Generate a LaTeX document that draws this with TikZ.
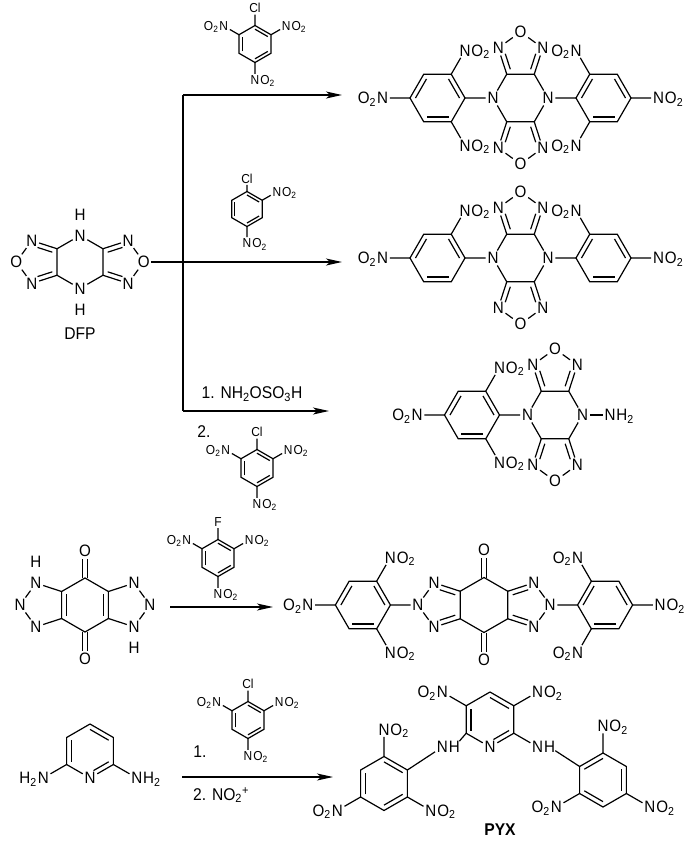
\documentclass[tikz,border=0pt]{standalone}
\usepackage{fontspec}
\setmainfont{Liberation Sans}
\newfontfamily\chemfont{Liberation Sans}[FakeStretch=0.92]
\usetikzlibrary{calc,positioning,arrows.meta}

\newcommand\atomfont{\chemfont\fontsize{16.5}{16.5}\selectfont}
\newcommand\smallfont{\chemfont\fontsize{13}{13}\selectfont}
\newcommand\notefont{\chemfont\fontsize{17}{18}\selectfont}

% six ring corners #11..#16 round #1c
\newcommand\ringat[4]{%
  \coordinate (#1c) at (#2);
  \foreach \k in {1,...,6}
    \coordinate (#1\k) at ($(#1c)+({#4+60*(\k-1)}:#3)$);
}
% five ring corners #11..#15 round #1c
\newcommand\pentat[4]{%
  \coordinate (#1c) at (#2);
  \foreach \k in {1,...,5}
    \coordinate (#1\k) at ($(#1c)+({#4+72*(\k-1)}:#3)$);
}
% inner line of a double bond
\newcommand\dbl[4][]{\draw[bond,#1] ($(#4)!0.8!(#2)$) -- ($(#4)!0.8!(#3)$);}
\newcommand\dblf[4][]{\draw[bond,#1] ($(#4)!0.74!(#2)$) -- ($(#4)!0.74!(#3)$);}
% nitro group
\newcommand\nitro[4][]{%
  \node[atom,#1] (#2) at (#3) {N};
  \node[tail,#1,base #4=-1pt of #2] (#2t) {O\textsubscript{2}};
}

\begin{document}
\begin{tikzpicture}[x=1pt,y=-1pt,
  bond/.style={line width=1.2pt},
  atom/.style={inner sep=1.6pt,font=\atomfont},
  tail/.style={inner sep=0pt,font=\atomfont},
  small/.style={font=\smallfont},
  note/.style={inner sep=0pt,font=\notefont},
  rxn/.style={line width=1.3pt,-{Stealth[length=16pt,width=7pt,inset=4pt]}}]
\useasboundingbox (0,0) rectangle (700,841);

% DFP
\ringat{d}{80,262}{26.5}{-90}
\node[atom] (dN1) at (d1) {N};
\node[atom] (dN4) at (d4) {N};
\node[atom,above=6pt of dN1] (dH1) {H};
\node[atom,below=6pt of dN4] (dH4) {H};
\draw[bond] (dN1) -- (d2) -- (d3) -- (dN4) -- (d5) -- (d6) -- (dN1);
\pentat{dl}{38.8,262}{22.5}{180}
\node[atom] (dlO) at (dl1) {O};
\node[atom] (dlN2) at (dl2) {N};
\node[atom] (dlN5) at (dl5) {N};
\draw[bond] (d6) -- (dlN2) -- (dlO) -- (dlN5) -- (d5);
\dblf[shorten >=4pt]{d6}{dlN2}{dlc}
\dblf[shorten >=4pt]{d5}{dlN5}{dlc}
\pentat{dr}{121.2,262}{22.5}{0}
\node[atom] (drO) at (dr1) {O};
\node[atom] (drN2) at (dr2) {N};
\node[atom] (drN5) at (dr5) {N};
\draw[bond] (d2) -- (drN5) -- (drO) -- (drN2) -- (d3);
\dblf[shorten >=4pt]{d2}{drN5}{drc}
\dblf[shorten >=4pt]{d3}{drN2}{drc}
\node[note] (dfp) at (80,334) {DFP};

% arrows from DFP
\coordinate (fk1) at (183,95);
\coordinate (fk3) at (183,411);
\coordinate (hd1) at (342,95);
\coordinate (hd2) at (342,262);
\coordinate (hd3) at (329,411);
\draw[line width=1.3pt] (fk1) -- (fk3);
\draw[rxn] (fk1) -- (hd1);
\draw[rxn] (drO) -- (hd2);
\draw[rxn] (fk3) -- (hd3);

% picryl chloride (1)
\ringat{ra}{255,44}{18.5}{-90}
\draw[bond] (ra1) -- (ra2) -- (ra3) -- (ra4) -- (ra5) -- (ra6) -- cycle;
\dbl{ra1}{ra2}{rac} \dbl{ra3}{ra4}{rac} \dbl{ra5}{ra6}{rac}
\node[atom,small] (raCl) at ($(rac)!1.95!(ra1)$) {Cl};
\nitro[small]{raN6}{$(rac)!1.95!(ra6)$}{left}
\nitro[small]{raN2}{$(rac)!1.95!(ra2)$}{right}
\nitro[small]{raN4}{$(rac)!1.95!(ra4)$}{right}
\draw[bond] (ra1) -- (raCl) (ra6) -- (raN6) (ra2) -- (raN2) (ra4) -- (raN4);

% 2,4-dinitrochlorobenzene
\ringat{rb}{247,209}{17.5}{-90}
\draw[bond] (rb1) -- (rb2) -- (rb3) -- (rb4) -- (rb5) -- (rb6) -- cycle;
\dbl{rb1}{rb2}{rbc} \dbl{rb3}{rb4}{rbc} \dbl{rb5}{rb6}{rbc}
\node[atom,small] (rbCl) at ($(rbc)!1.75!(rb1)$) {Cl};
\nitro[small]{rbN2}{$(rbc)!1.97!(rb2)$}{right}
\nitro[small]{rbN4}{$(rbc)!1.97!(rb4)$}{right}
\draw[bond] (rb1) -- (rbCl) (rb2) -- (rbN2) (rb4) -- (rbN4);

% reagents of the third route
\node[note] (n1) at (252,394) {1. NH\textsubscript{2}OSO\textsubscript{3}H};
\node[note] (n2) at (204,432) {2.};
\ringat{rc}{257,468}{18.5}{-90}
\draw[bond] (rc1) -- (rc2) -- (rc3) -- (rc4) -- (rc5) -- (rc6) -- cycle;
\dbl{rc1}{rc2}{rcc} \dbl{rc3}{rc4}{rcc} \dbl{rc5}{rc6}{rcc}
\node[atom,small] (rcCl) at ($(rcc)!1.95!(rc1)$) {Cl};
\nitro[small]{rcN6}{$(rcc)!1.95!(rc6)$}{left}
\nitro[small]{rcN2}{$(rcc)!1.95!(rc2)$}{right}
\nitro[small]{rcN4}{$(rcc)!1.95!(rc4)$}{right}
\draw[bond] (rc1) -- (rcCl) (rc6) -- (rcN6) (rc2) -- (rcN2) (rc4) -- (rcN4);

% product 1
\ringat{a}{520.5,98}{27.5}{0}
\node[atom] (aN1) at (a1) {N};
\node[atom] (aN4) at (a4) {N};
\draw[bond] (aN1) -- (a2) -- (a3) -- (aN4) -- (a5) -- (a6) -- (aN1);
\pentat{at}{520.5,55.3}{23.4}{-90}
\node[atom] (atO) at (at1) {O};
\node[atom] (atN2) at (at2) {N};
\node[atom] (atN5) at (at5) {N};
\draw[bond] (a5) -- (atN5) -- (atO) -- (atN2) -- (a6);
\dblf[shorten >=4pt]{a5}{atN5}{atc}
\dblf[shorten >=4pt]{a6}{atN2}{atc}
\pentat{ab}{520.5,140.7}{23.4}{90}
\node[atom] (abO) at (ab1) {O};
\node[atom] (abN2) at (ab2) {N};
\node[atom] (abN5) at (ab5) {N};
\draw[bond] (a3) -- (abN2) -- (abO) -- (abN5) -- (a2);
\dblf[shorten >=4pt]{a3}{abN2}{abc}
\dblf[shorten >=4pt]{a2}{abN5}{abc}
\ringat{al}{437.5,98}{27.5}{0}
\draw[bond] (al1) -- (al2) -- (al3) -- (al4) -- (al5) -- (al6) -- cycle;
\dbl{al4}{al5}{alc} \dbl{al6}{al1}{alc} \dbl{al2}{al3}{alc}
\nitro{alN6}{$(alc)!2!(al6)$}{right}
\nitro{alN2}{$(alc)!2!(al2)$}{right}
\nitro{alN4}{$(alc)!2!(al4)$}{left}
\draw[bond] (al1) -- (aN4) (al6) -- (alN6) (al2) -- (alN2) (al4) -- (alN4);
\ringat{ar}{603.5,98}{27.5}{0}
\draw[bond] (ar1) -- (ar2) -- (ar3) -- (ar4) -- (ar5) -- (ar6) -- cycle;
\dbl{ar4}{ar5}{arc} \dbl{ar6}{ar1}{arc} \dbl{ar2}{ar3}{arc}
\nitro{arN5}{$(arc)!2!(ar5)$}{left}
\nitro{arN3}{$(arc)!2!(ar3)$}{left}
\nitro{arN1}{$(arc)!2!(ar1)$}{right}
\draw[bond] (ar4) -- (aN1) (ar5) -- (arN5) (ar3) -- (arN3) (ar1) -- (arN1);

% product 2
\ringat{b}{520.5,258}{27.5}{0}
\node[atom] (bN1) at (b1) {N};
\node[atom] (bN4) at (b4) {N};
\draw[bond] (bN1) -- (b2) -- (b3) -- (bN4) -- (b5) -- (b6) -- (bN1);
\pentat{bt}{520.5,215.3}{23.4}{-90}
\node[atom] (btO) at (bt1) {O};
\node[atom] (btN2) at (bt2) {N};
\node[atom] (btN5) at (bt5) {N};
\draw[bond] (b5) -- (btN5) -- (btO) -- (btN2) -- (b6);
\dblf[shorten >=4pt]{b5}{btN5}{btc}
\dblf[shorten >=4pt]{b6}{btN2}{btc}
\pentat{bb}{520.5,300.7}{23.4}{90}
\node[atom] (bbO) at (bb1) {O};
\node[atom] (bbN2) at (bb2) {N};
\node[atom] (bbN5) at (bb5) {N};
\draw[bond] (b3) -- (bbN2) -- (bbO) -- (bbN5) -- (b2);
\dblf[shorten >=4pt]{b3}{bbN2}{bbc}
\dblf[shorten >=4pt]{b2}{bbN5}{bbc}
\ringat{bl}{437.5,258}{27.5}{0}
\draw[bond] (bl1) -- (bl2) -- (bl3) -- (bl4) -- (bl5) -- (bl6) -- cycle;
\dbl{bl4}{bl5}{blc} \dbl{bl6}{bl1}{blc} \dbl{bl2}{bl3}{blc}
\nitro{blN6}{$(blc)!2!(bl6)$}{right}
\nitro{blN4}{$(blc)!2!(bl4)$}{left}
\draw[bond] (bl1) -- (bN4) (bl6) -- (blN6) (bl4) -- (blN4);
\ringat{br}{603.5,258}{27.5}{0}
\draw[bond] (br1) -- (br2) -- (br3) -- (br4) -- (br5) -- (br6) -- cycle;
\dbl{br4}{br5}{brc} \dbl{br6}{br1}{brc} \dbl{br2}{br3}{brc}
\nitro{brN5}{$(brc)!2!(br5)$}{left}
\nitro{brN1}{$(brc)!2!(br1)$}{right}
\draw[bond] (br4) -- (bN1) (br5) -- (brN5) (br1) -- (brN1);

% product 3
\ringat{c}{555,415}{27.5}{0}
\node[atom] (cN1) at (c1) {N};
\node[atom] (cN4) at (c4) {N};
\draw[bond] (cN1) -- (c2) -- (c3) -- (cN4) -- (c5) -- (c6) -- (cN1);
\pentat{ct}{555,372.3}{23.4}{-90}
\node[atom] (ctO) at (ct1) {O};
\node[atom] (ctN2) at (ct2) {N};
\node[atom] (ctN5) at (ct5) {N};
\draw[bond] (c5) -- (ctN5) -- (ctO) -- (ctN2) -- (c6);
\dblf[shorten >=4pt]{c5}{ctN5}{ctc}
\dblf[shorten >=4pt]{c6}{ctN2}{ctc}
\pentat{cb}{555,457.7}{23.4}{90}
\node[atom] (cbO) at (cb1) {O};
\node[atom] (cbN2) at (cb2) {N};
\node[atom] (cbN5) at (cb5) {N};
\draw[bond] (c3) -- (cbN2) -- (cbO) -- (cbN5) -- (c2);
\dblf[shorten >=4pt]{c3}{cbN2}{cbc}
\dblf[shorten >=4pt]{c2}{cbN5}{cbc}
\ringat{cl}{472,415}{27.5}{0}
\draw[bond] (cl1) -- (cl2) -- (cl3) -- (cl4) -- (cl5) -- (cl6) -- cycle;
\dbl{cl4}{cl5}{clc} \dbl{cl6}{cl1}{clc} \dbl{cl2}{cl3}{clc}
\nitro{clN6}{$(clc)!2!(cl6)$}{right}
\nitro{clN2}{$(clc)!2!(cl2)$}{right}
\nitro{clN4}{$(clc)!2!(cl4)$}{left}
\draw[bond] (cl1) -- (cN4) (cl6) -- (clN6) (cl2) -- (clN2) (cl4) -- (clN4);
\node[atom] (cNa) at ($(cc)!2!(c1)$) {N};
\node[tail,base right=-1pt of cNa] (cNat) {H\textsubscript{2}};
\draw[bond] (cN1) -- (cNa);

% triazolo benzoquinone
\ringat{q}{85,605}{27}{-90}
\draw[bond] (q1) -- (q2) -- (q3) -- (q4) -- (q5) -- (q6) -- cycle;
\dbl{q5}{q6}{qc} \dbl{q2}{q3}{qc}
\node[atom] (qOa) at ($(qc)!2!(q1)$) {O};
\node[atom] (qOb) at ($(qc)!2!(q4)$) {O};
\draw[bond] ($(q1)+(-2.2,0)$) -- ($(qOa.south)+(-2.2,0)$);
\draw[bond] ($(q1)+(2.2,0)$) -- ($(qOa.south)+(2.2,0)$);
\draw[bond] ($(q4)+(-2.2,0)$) -- ($(qOb.north)+(-2.2,0)$);
\draw[bond] ($(q4)+(2.2,0)$) -- ($(qOb.north)+(2.2,0)$);
\pentat{ql}{43.04,605}{22.97}{180}
\node[atom] (qlN1) at (ql1) {N};
\node[atom] (qlN2) at (ql2) {N};
\node[atom] (qlN5) at (ql5) {N};
\node[atom,above=6pt of qlN2] (qlH) {H};
\draw[bond] (q6) -- (qlN2) -- (qlN1) -- (qlN5) -- (q5);
\pentat{qr}{126.96,605}{22.97}{0}
\node[atom] (qrN1) at (qr1) {N};
\node[atom] (qrN2) at (qr2) {N};
\node[atom] (qrN5) at (qr5) {N};
\node[atom,below=6pt of qrN2] (qrH) {H};
\draw[bond] (q2) -- (qrN5) -- (qrN1) -- (qrN2) -- (q3);
\coordinate (t4) at (170,607);
\coordinate (hd4) at (273,607);
\draw[rxn] (t4) -- (hd4);

% picryl fluoride
\ringat{rd}{218,558}{18.5}{-90}
\draw[bond] (rd1) -- (rd2) -- (rd3) -- (rd4) -- (rd5) -- (rd6) -- cycle;
\dbl{rd1}{rd2}{rdc} \dbl{rd3}{rd4}{rdc} \dbl{rd5}{rd6}{rdc}
\node[atom,small] (rdF) at ($(rdc)!1.95!(rd1)$) {F};
\nitro[small]{rdN6}{$(rdc)!1.95!(rd6)$}{left}
\nitro[small]{rdN2}{$(rdc)!1.95!(rd2)$}{right}
\nitro[small]{rdN4}{$(rdc)!1.95!(rd4)$}{right}
\draw[bond] (rd1) -- (rdF) (rd6) -- (rdN6) (rd2) -- (rdN2) (rd4) -- (rdN4);

% product 4
\ringat{x}{484,605}{27.5}{-90}
\draw[bond] (x1) -- (x2) -- (x3) -- (x4) -- (x5) -- (x6) -- cycle;
\node[atom] (xOa) at ($(xc)!2!(x1)$) {O};
\node[atom] (xOb) at ($(xc)!2!(x4)$) {O};
\draw[bond] ($(x1)+(-2.2,0)$) -- ($(xOa.south)+(-2.2,0)$);
\draw[bond] ($(x1)+(2.2,0)$) -- ($(xOa.south)+(2.2,0)$);
\draw[bond] ($(x4)+(-2.2,0)$) -- ($(xOb.north)+(-2.2,0)$);
\draw[bond] ($(x4)+(2.2,0)$) -- ($(xOb.north)+(2.2,0)$);
\pentat{xl}{441.3,605}{23.4}{180}
\node[atom] (xlN1) at (xl1) {N};
\node[atom] (xlN2) at (xl2) {N};
\node[atom] (xlN5) at (xl5) {N};
\draw[bond] (x6) -- (xlN2) -- (xlN1) -- (xlN5) -- (x5);
\dblf[shorten >=4pt]{x6}{xlN2}{xlc}
\dblf[shorten >=4pt]{x5}{xlN5}{xlc}
\pentat{xr}{526.7,605}{23.4}{0}
\node[atom] (xrN1) at (xr1) {N};
\node[atom] (xrN2) at (xr2) {N};
\node[atom] (xrN5) at (xr5) {N};
\draw[bond] (x2) -- (xrN5) -- (xrN1) -- (xrN2) -- (x3);
\dblf[shorten >=4pt]{x2}{xrN5}{xrc}
\dblf[shorten >=4pt]{x3}{xrN2}{xrc}
\ringat{xa}{362.9,605}{27.5}{0}
\draw[bond] (xa1) -- (xa2) -- (xa3) -- (xa4) -- (xa5) -- (xa6) -- cycle;
\dbl{xa4}{xa5}{xac} \dbl{xa6}{xa1}{xac} \dbl{xa2}{xa3}{xac}
\nitro{xaN6}{$(xac)!2!(xa6)$}{right}
\nitro{xaN2}{$(xac)!2!(xa2)$}{right}
\nitro{xaN4}{$(xac)!2!(xa4)$}{left}
\draw[bond] (xa1) -- (xlN1) (xa6) -- (xaN6) (xa2) -- (xaN2) (xa4) -- (xaN4);
\ringat{xb}{605.1,605}{27.5}{0}
\draw[bond] (xb1) -- (xb2) -- (xb3) -- (xb4) -- (xb5) -- (xb6) -- cycle;
\dbl{xb4}{xb5}{xbc} \dbl{xb6}{xb1}{xbc} \dbl{xb2}{xb3}{xbc}
\nitro{xbN5}{$(xbc)!2!(xb5)$}{left}
\nitro{xbN3}{$(xbc)!2!(xb3)$}{left}
\nitro{xbN1}{$(xbc)!2!(xb1)$}{right}
\draw[bond] (xb4) -- (xrN1) (xb5) -- (xbN5) (xb3) -- (xbN3) (xb1) -- (xbN1);

% 2,6-diaminopyridine
\ringat{y}{90,751}{27}{-90}
\node[atom] (yN) at (y4) {N};
\draw[bond] (y1) -- (y2) -- (y3) -- (yN) -- (y5) -- (y6) -- (y1);
\dbl{y1}{y2}{yc} \dbl[shorten >=4pt]{y3}{yN}{yc} \dbl{y5}{y6}{yc}
\node[atom] (yNa) at ($(yc)!2!(y5)$) {N};
\node[tail,base left=-1pt of yNa] (yNat) {H\textsubscript{2}};
\node[atom] (yNb) at ($(yc)!2!(y3)$) {N};
\node[tail,base right=-1pt of yNb] (yNbt) {H\textsubscript{2}};
\draw[bond] (y5) -- (yNa) (y3) -- (yNb);
\coordinate (t5) at (182,777);
\coordinate (hd5) at (333,777);
\draw[rxn] (t5) -- (hd5);
\node[note] (n3) at (200,752) {1.};
\node[note,anchor=west] (n4) at (193,795) {2. NO\textsubscript{2}\textsuperscript{+}};

% picryl chloride (3)
\ringat{re}{248,720}{18.5}{-90}
\draw[bond] (re1) -- (re2) -- (re3) -- (re4) -- (re5) -- (re6) -- cycle;
\dbl{re1}{re2}{rec} \dbl{re3}{re4}{rec} \dbl{re5}{re6}{rec}
\node[atom,small] (reCl) at ($(rec)!1.95!(re1)$) {Cl};
\nitro[small]{reN6}{$(rec)!1.95!(re6)$}{left}
\nitro[small]{reN2}{$(rec)!1.95!(re2)$}{right}
\nitro[small]{reN4}{$(rec)!1.95!(re4)$}{right}
\draw[bond] (re1) -- (reCl) (re6) -- (reN6) (re2) -- (reN2) (re4) -- (reN4);

% PYX
\ringat{z}{490,719.5}{27.5}{-90}
\node[atom] (zN) at (z4) {N};
\draw[bond] (z1) -- (z2) -- (z3) -- (zN) -- (z5) -- (z6) -- (z1);
\dbl{z1}{z2}{zc} \dbl[shorten >=4pt]{z3}{zN}{zc} \dbl{z5}{z6}{zc}
\nitro{zN6}{$(zc)!2!(z6)$}{left}
\nitro{zN2}{$(zc)!2!(z2)$}{right}
\draw[bond] (z6) -- (zN6) (z2) -- (zN2);
\node[atom] (zNl) at ($(zc)!2!(z5)$) {N};
\node[tail,base right=-1pt of zNl] (zNlt) {H};
\node[atom] (zNr) at ($(zc)!2!(z3)$) {N};
\node[tail,base right=-1pt of zNr] (zNrt) {H};
\draw[bond] (z5) -- (zNlt) (z3) -- (zNr);
\ringat{zl}{384,783.5}{27}{-90}
\draw[bond] (zl1) -- (zl2) -- (zl3) -- (zl4) -- (zl5) -- (zl6) -- cycle;
\dbl{zl1}{zl2}{zlc} \dbl{zl3}{zl4}{zlc} \dbl{zl5}{zl6}{zlc}
\nitro{zlN1}{$(zlc)!2!(zl1)$}{right}
\nitro{zlN3}{$(zlc)!2!(zl3)$}{right}
\nitro{zlN5}{$(zlc)!2!(zl5)$}{left}
\draw[bond] (zl2) -- (zNl) (zl1) -- (zlN1) (zl3) -- (zlN3) (zl5) -- (zlN5);
\ringat{zr}{603,780}{27}{-90}
\draw[bond] (zr1) -- (zr2) -- (zr3) -- (zr4) -- (zr5) -- (zr6) -- cycle;
\dbl{zr6}{zr1}{zrc} \dbl{zr4}{zr5}{zrc} \dbl{zr2}{zr3}{zrc}
\nitro{zrN1}{$(zrc)!2!(zr1)$}{right}
\nitro{zrN5}{$(zrc)!2!(zr5)$}{left}
\nitro{zrN3}{$(zrc)!2!(zr3)$}{right}
\draw[bond] (zNrt) -- (zr6) (zr1) -- (zrN1) (zr5) -- (zrN5) (zr3) -- (zrN3);
\node[note,font=\notefont\bfseries] (pyx) at (500,830) {PYX};
\end{tikzpicture}
\end{document}
